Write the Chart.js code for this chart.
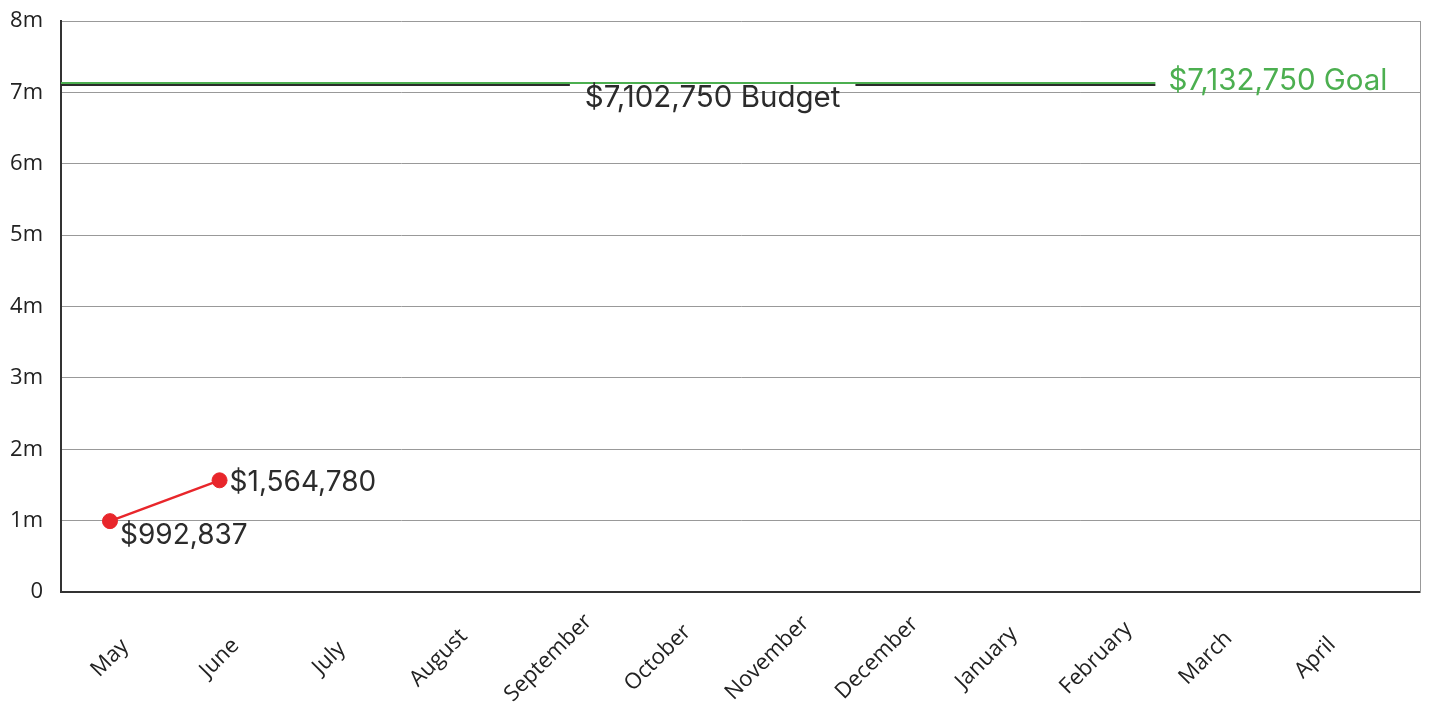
<!DOCTYPE html>
<html>
<head>
<meta charset="utf-8">
<script src="https://cdn.jsdelivr.net/npm/chart.js@4.4.0/dist/chart.umd.min.js"></script>
<style>
	body { margin: 0; background: #fff; }
	canvas { display: block; }
</style>
</head>
<body>
<canvas id="chart" width="1429" height="702"></canvas>
<script>
const months = ['May', 'June', 'July', 'August', 'September', 'October', 'November', 'December', 'January', 'February', 'March', 'April']
const actual = [992837, 1564780]
const budget = 7102750
const goal = 7132750
const yTickLabels = ['0', '1m', '2m', '3m', '4m', '5m', '6m', '7m', '8m']

const red = '#e8262b'
const green = '#4caf50'
const ink = '#2b2b2b'
const valueFont = '28px Inter'
const refFont = '29.5px Inter'
const axisFont = '22px "Open Sans"'

const money = v => '$' + v.toLocaleString('en-US')

// budget / goal lines with their labels, point labels and month labels
const extras = {
	id: 'extras',
	afterDatasetsDraw(chart) {
		const { ctx, chartArea, scales } = chart
		ctx.save()

		ctx.font = refFont
		const goalText = money(goal) + ' Goal'
		const budgetText = money(budget) + ' Budget'
		const goalW = ctx.measureText(goalText).width
		const budgetW = ctx.measureText(budgetText).width
		const lineEnd = chartArea.right - 33 - goalW - 13
		const yBudget = scales.y.getPixelForValue(budget)
		const yGoal = scales.y.getPixelForValue(goal)
		const bx = scales.x.getPixelForValue(5.5)

		// budget line, broken where its label sits
		ctx.strokeStyle = ink
		ctx.lineWidth = 2
		ctx.beginPath()
		ctx.moveTo(chartArea.left, yBudget)
		ctx.lineTo(bx - budgetW / 2 - 15, yBudget)
		ctx.moveTo(bx + budgetW / 2 + 15, yBudget)
		ctx.lineTo(lineEnd, yBudget)
		ctx.stroke()

		ctx.strokeStyle = green
		ctx.lineWidth = 2
		ctx.beginPath()
		ctx.moveTo(chartArea.left, yGoal)
		ctx.lineTo(lineEnd, yGoal)
		ctx.stroke()

		ctx.textBaseline = 'middle'
		ctx.fillStyle = ink
		ctx.textAlign = 'center'
		ctx.fillText(budgetText, bx, yBudget + 13)
		ctx.fillStyle = green
		ctx.textAlign = 'left'
		ctx.fillText(goalText, lineEnd + 13, yGoal - 2)

		// value labels next to each point
		ctx.font = valueFont
		ctx.fillStyle = ink
		let meta = chart.getDatasetMeta(0)
		meta.data.forEach((pt, i) => {
			let dy = i === 0 ? 14 : 2
			ctx.fillText(money(actual[i]), pt.x + 10, pt.y + dy)
		})

		// month labels, rotated about their centre
		ctx.font = axisFont
		ctx.fillStyle = '#222'
		ctx.textAlign = 'center'
		months.forEach((m, i) => {
			ctx.save()
			ctx.translate(scales.x.getPixelForValue(i), chartArea.bottom + 66)
			ctx.rotate(-Math.PI / 4)
			ctx.fillText(m, 0, 0)
			ctx.restore()
		})

		ctx.restore()
	},
}

let canvas = document.querySelector('#chart')

let data = {
	datasets: [
		{
			data: actual.map((v, i) => ({ x: i, y: v })),
			borderColor: red,
			backgroundColor: red,
			borderWidth: 2.5,
			pointRadius: 7.5,
			pointBorderWidth: 1,
			tension: 0,
		},
	],
}

let options = {
	responsive: false,
	animation: false,
	layout: {
		padding: { top: 21, right: 8, left: 0, bottom: 0 },
	},
	scales: {
		x: {
			type: 'linear',
			min: -0.447,
			max: 11.96,
			grid: { display: false },
			ticks: { display: false },
			border: { color: '#333', width: 2 },
			afterFit: scale => {
				scale.height = 110
				scale.paddingLeft = 0
				scale.paddingRight = 0
			},
		},
		y: {
			min: 0,
			max: 8000000,
			ticks: {
				stepSize: 1000000,
				padding: 18,
				color: '#222',
				font: { family: 'Open Sans', size: 22 },
				callback: (v, i) => yTickLabels[i],
			},
			grid: { color: '#999', drawTicks: false },
			border: { color: '#333', width: 2 },
			afterFit: scale => {
				scale.width = 61
				scale.paddingTop = 0
				scale.paddingBottom = 0
			},
		},
		y2: {
			position: 'right',
			min: 0,
			max: 8000000,
			grid: { display: false },
			ticks: { display: false },
			border: { color: '#999', width: 1 },
			afterFit: scale => {
				scale.width = 0
				scale.paddingTop = 0
				scale.paddingBottom = 0
			},
		},
	},
	plugins: {
		legend: { display: false },
		tooltip: { enabled: false },
	},
}

let chart = new Chart(canvas, {
	type: 'line',
	data: data,
	options: options,
	plugins: [extras],
})
</script>
</body>
</html>
